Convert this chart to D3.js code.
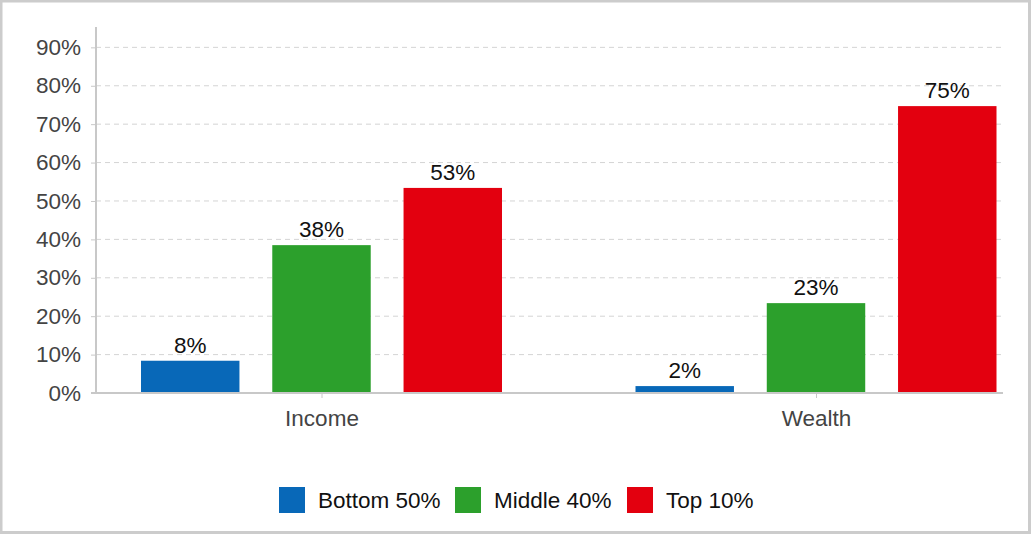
<!DOCTYPE html>
<html><head><meta charset="utf-8">
<script src="https://cdn.jsdelivr.net/npm/d3@7"></script>
<style>body{margin:0;background:#fff}svg{display:block;font-family:"Liberation Sans",Arial,Helvetica,sans-serif}</style>
</head><body><svg id="c" width="1031" height="534"></svg>
<script>
const categories = ["Income", "Wealth"];
const seriesNames = ["Bottom 50%", "Middle 40%", "Top 10%"];
const seriesColors = ["#0868b8", "#2ca02c", "#e3000f"];
const incomeValues = [8.4, 38.5, 53.4];
const wealthValues = [1.8, 23.4, 74.7];
const valueLabels = [["8%", "38%", "53%"], ["2%", "23%", "75%"]];
const yTicks = [0, 10, 20, 30, 40, 50, 60, 70, 80, 90];

const values = [incomeValues, wealthValues];
const FS = 22.5;
const svg = d3.select("#c");
svg.append("rect").attr("x", 1).attr("y", 1).attr("width", 1028.5).attr("height", 531.5)
  .attr("fill", "#fff").attr("stroke", "#cccccc").attr("stroke-width", 3);

const left = 96, right = 1003, y0 = 393, yTop = 27;
const y = d3.scaleLinear().domain([0, 95.3]).range([y0, yTop]);
const x = d3.scalePoint().domain(categories).range([321.5, 816]);
const xi = d3.scaleBand().domain(seriesNames).range([-180.5, 180.5]).paddingInner(0.25).paddingOuter(0);

// gridlines
svg.append("g").selectAll("line").data(yTicks.filter(d => d > 0)).join("line")
  .attr("x1", left).attr("x2", right).attr("y1", d => y(d)).attr("y2", d => y(d))
  .attr("stroke", "#d4d4d4").attr("stroke-width", 1).attr("stroke-dasharray", "5,4");

// y axis
const yAxis = d3.axisLeft(y).tickValues(yTicks).tickFormat(d => d + "%").tickSize(5).tickPadding(10);
const gy = svg.append("g").attr("transform", `translate(${left},0)`).call(yAxis);
gy.select(".domain").remove();
gy.selectAll(".tick line").attr("stroke", "#c8c8c8");
gy.selectAll(".tick text").attr("font-size", FS).attr("fill", "#444").attr("font-family", "Liberation Sans, Arial, sans-serif");
svg.append("line").attr("x1", left).attr("x2", left).attr("y1", yTop).attr("y2", y0)
  .attr("stroke", "#c8c8c8").attr("stroke-width", 2);

// bars
categories.forEach((c, ci) => {
  const g = svg.append("g").attr("transform", `translate(${x(c)},0)`);
  g.selectAll("rect").data(values[ci]).join("rect")
    .attr("x", (d, i) => xi(seriesNames[i])).attr("width", xi.bandwidth())
    .attr("y", d => y(d)).attr("height", d => y0 - y(d))
    .attr("fill", (d, i) => seriesColors[i]);
  g.selectAll("text").data(values[ci]).join("text")
    .attr("x", (d, i) => xi(seriesNames[i]) + xi.bandwidth() / 2)
    .attr("y", d => y(d) - 8).attr("text-anchor", "middle")
    .attr("font-size", FS).attr("fill", "#111")
    .text((d, i) => valueLabels[ci][i]);
});

// x axis
const xAxis = d3.axisBottom(x).tickSize(5).tickPadding(12);
const gx = svg.append("g").attr("transform", `translate(0,${y0})`).call(xAxis);
gx.select(".domain").remove();
gx.selectAll(".tick line").attr("stroke", "#c8c8c8");
gx.selectAll(".tick text").attr("font-size", FS).attr("fill", "#444").attr("font-family", "Liberation Sans, Arial, sans-serif");
svg.append("line").attr("x1", 91).attr("x2", right).attr("y1", y0).attr("y2", y0)
  .attr("stroke", "#c8c8c8").attr("stroke-width", 2);

// legend
const legendX = [279, 455, 627];
const lg = svg.append("g");
seriesNames.forEach((s, i) => {
  lg.append("rect").attr("x", legendX[i]).attr("y", 487).attr("width", 26).attr("height", 26)
    .attr("fill", seriesColors[i]);
  lg.append("text").attr("x", legendX[i] + 39).attr("y", 508).attr("font-size", FS)
    .attr("fill", "#111").text(s);
});
</script></body></html>
